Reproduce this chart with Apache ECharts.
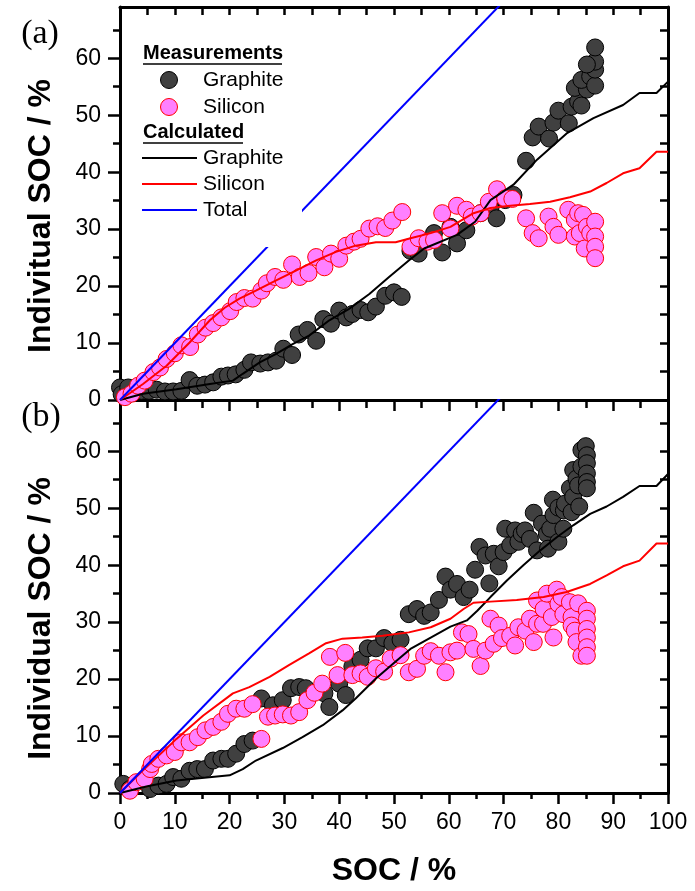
<!DOCTYPE html>
<html><head><meta charset="utf-8">
<script src="https://cdn.jsdelivr.net/npm/echarts@6/dist/echarts.min.js"></script>
<style>html,body{margin:0;padding:0;background:#fff}#c{width:695px;height:891px}</style>
</head><body><div id="c"></div>
<script>
// ---- tick values ----
const xMajorTicks = [0,10,20,30,40,50,60,70,80,90,100];
const yMajorTicks = [0,10,20,30,40,50,60];
const yMinorTicks = [5,15,25,35,45,55,65];
const yInsideTicks = [5,10,15,20,25,30,35,40,45,50,55,60,65];

// ---- (a) measurements ----
const graphiteMeasA = [[0.0,2.2],[0.3,1.0],[1.5,2.2],[3.9,1.6],[5.3,1.6],[6.7,1.8],[8.2,1.5],[9.7,1.5],[11.2,1.6],[12.7,3.5],[14.1,2.5],[15.5,2.7],[17.0,3.1],[18.5,4.1],[19.7,4.3],[21.1,4.5],[22.7,5.3],[23.9,6.6],[25.6,6.4],[27.0,6.6],[28.5,6.9],[29.8,9.0],[31.4,7.9],[32.6,11.5],[34.2,12.3],[35.8,10.4],[37.1,14.2],[38.5,13.4],[40.0,15.7],[41.3,14.5],[42.4,15.1],[43.9,15.8],[45.3,15.4],[46.7,16.4],[48.4,18.3],[50.0,18.9],[51.4,18.1],[53.0,26.2],[54.5,25.7],[57.3,29.3],[58.8,25.9],[60.3,30.4],[61.5,27.5],[63.2,29.8],[65.8,32.8],[67.6,33.7],[68.7,31.9],[70.3,35.1],[71.8,36.0],[74.1,42.0],[75.3,46.1],[76.4,48.0],[78.3,45.9],[79.1,48.7],[80.0,50.8],[81.9,48.6],[82.4,51.5],[83.6,52.4],[84.2,51.7],[83.0,54.8],[85.2,54.5],[84.2,56.2],[85.8,56.8],[86.7,55.2],[86.7,58.0],[86.7,59.4],[85.2,58.9],[86.7,61.9]];
const siliconMeasA = [[0.9,0.5],[2.1,1.1],[3.3,2.5],[4.5,3.4],[6.1,4.9],[7.3,5.7],[8.5,7.2],[10.0,8.2],[11.2,9.6],[12.8,9.3],[14.2,11.5],[15.6,12.7],[17.0,13.5],[18.5,14.5],[20.1,15.6],[21.3,17.2],[22.7,17.9],[24.2,17.8],[25.8,19.2],[26.8,20.5],[28.3,21.6],[29.8,21.1],[31.4,23.8],[32.8,21.6],[34.4,22.3],[35.8,25.1],[37.3,23.3],[38.5,25.7],[40.0,24.8],[41.3,27.1],[42.7,27.8],[43.9,28.3],[45.5,30.1],[47.0,30.5],[48.4,30.2],[49.7,31.5],[51.5,33.0],[53.0,26.9],[54.5,28.4],[56.1,27.8],[57.3,28.1],[58.8,32.8],[60.3,30.1],[61.5,34.1],[63.2,33.4],[64.2,32.2],[65.8,32.8],[67.3,34.8],[68.8,37.0],[70.3,35.4],[71.6,35.3],[74.1,31.9],[75.3,29.3],[76.4,28.4],[78.2,32.2],[79.1,30.4],[80.0,29.0],[81.8,33.4],[83.0,31.6],[83.6,32.8],[84.5,32.5],[83.0,28.7],[83.9,29.3],[85.2,30.4],[84.8,26.6],[85.8,29.3],[86.7,31.3],[86.7,28.7],[86.7,26.9],[86.7,24.9]];
// ---- (a) calculated ----
const graphiteCalcA = [[0,0],[4.2,1.1],[10.3,1.9],[16.4,2.8],[20.6,3.4],[22.4,4.6],[25.5,6.6],[28.5,8.1],[31.5,9.8],[34.5,11.3],[38.2,14.0],[41.8,16.0],[45.5,18.6],[49.1,21.6],[52.7,24.5],[55.5,26.6],[61.5,29.0],[64.8,31.3],[67.6,35.1],[71.8,37.8],[76.1,42.2],[81.5,46.8],[86.4,49.5],[91.8,51.8],[94.8,53.9],[97.9,53.9],[100,55.9]];
const siliconCalcA = [[0,0],[4.2,2.8],[8.5,6.0],[12.7,10.1],[16.4,14.0],[19.1,16.2],[21.8,17.8],[24.8,19.2],[28.5,21.0],[32.1,22.7],[35.8,24.5],[39.4,26.0],[43.0,27.1],[46.7,27.7],[50.3,27.7],[53.0,28.4],[56.7,29.3],[60.3,30.4],[64.5,32.8],[67.6,33.7],[71.2,34.1],[74.8,34.4],[78.5,34.8],[82.1,35.6],[85.8,36.6],[88.8,38.1],[91.8,39.8],[94.8,40.7],[97.9,43.6],[100,43.6]];
const totalCalc = [[0,0],[100,100]];

// ---- (b) measurements ----
const graphiteMeasB = [[0.6,1.6],[1.8,0.7],[5.5,0.7],[7.0,1.3],[8.5,1.6],[9.7,2.8],[11.2,2.5],[12.7,3.9],[14.1,4.2],[15.5,4.2],[17.0,5.7],[18.5,6.0],[19.7,6.0],[21.2,6.9],[22.7,8.6],[24.2,9.2],[25.8,16.6],[27.9,15.4],[29.7,16.3],[31.2,18.4],[32.7,18.6],[33.9,18.4],[37.3,17.5],[38.2,15.1],[40.0,19.2],[41.2,17.2],[42.4,22.2],[43.9,23.4],[45.2,25.4],[46.7,25.4],[48.2,27.2],[49.7,26.3],[51.2,26.9],[52.7,31.4],[54.2,32.3],[55.5,31.1],[56.7,31.7],[58.2,33.9],[59.4,38.0],[60.3,35.7],[61.5,36.7],[62.7,34.4],[63.8,35.7],[64.8,39.2],[65.6,43.2],[66.7,41.7],[67.4,36.8],[68.2,42.0],[69.1,39.8],[70.0,42.3],[70.3,46.4],[71.2,43.5],[72.1,46.1],[72.7,44.1],[73.3,45.5],[73.9,46.1],[74.8,44.6],[75.5,49.2],[76.1,42.6],[77.0,47.3],[77.9,45.5],[78.1,42.9],[78.5,46.4],[79.0,51.5],[79.1,48.8],[80.0,44.1],[80.0,50.1],[80.9,46.4],[81.0,49.6],[81.2,50.8],[82.1,53.5],[82.4,49.3],[82.7,52.0],[82.7,56.7],[83.3,55.2],[83.6,54.0],[83.8,50.3],[84.2,57.3],[84.2,60.2],[85.0,60.9],[85.2,59.3],[85.2,57.9],[85.2,56.1],[85.2,54.6],[85.2,53.5]];
const siliconMeasB = [[1.8,0.4],[3.0,1.9],[4.5,2.5],[5.5,4.2],[5.8,5.1],[7.0,6.0],[8.5,6.6],[10.0,7.2],[11.2,8.9],[12.7,8.9],[14.2,9.8],[15.6,11.0],[17.0,11.6],[18.5,12.5],[19.7,13.9],[21.2,14.8],[22.7,14.8],[24.2,15.6],[25.8,9.5],[27.0,13.4],[28.3,13.6],[29.7,13.8],[31.2,13.6],[32.7,14.2],[34.2,16.3],[35.5,17.6],[36.9,19.2],[38.3,23.9],[39.7,20.7],[41.1,24.6],[42.4,20.7],[43.9,21.0],[45.2,20.4],[46.7,21.9],[48.2,21.3],[49.4,23.6],[51.2,24.2],[52.7,21.2],[54.2,21.8],[55.5,24.1],[56.7,24.9],[58.2,24.1],[59.4,21.2],[60.3,24.7],[61.5,25.0],[62.4,28.2],[63.6,27.9],[64.5,25.3],[65.8,22.3],[66.7,25.0],[67.6,30.6],[68.2,26.2],[69.1,29.4],[69.7,27.2],[71.2,27.6],[72.1,25.9],[72.7,29.1],[74.0,28.5],[74.8,30.6],[75.5,26.5],[76.1,29.7],[76.1,33.8],[77.2,29.7],[77.3,32.3],[77.9,35.0],[78.8,30.9],[79.1,27.3],[79.7,35.7],[80.0,33.2],[80.6,34.4],[80.9,31.4],[82.1,33.5],[82.4,30.9],[82.4,29.4],[83.0,28.5],[83.3,26.5],[83.6,33.3],[84.2,24.1],[85.2,32.0],[85.2,30.6],[85.2,28.8],[85.2,27.3],[85.2,25.6],[85.2,24.1]];
// ---- (b) calculated ----
const graphiteCalcB = [[0,0],[5.0,1.2],[10.3,2.2],[20.0,3.1],[22.4,4.2],[24.8,5.7],[29.7,7.9],[33.3,9.8],[37.0,11.9],[40.6,14.5],[43.0,16.6],[46.7,20.1],[50.3,23.1],[53.0,25.3],[56.7,27.3],[60.3,29.2],[63.3,30.3],[65.2,32.0],[67.6,34.4],[70.6,37.3],[73.6,40.0],[76.7,42.6],[79.7,44.9],[82.7,47.0],[85.8,49.0],[88.8,50.3],[91.8,52.0],[94.8,53.9],[97.9,53.9],[100,56.0]];
const siliconCalcB = [[0,0],[4.0,3.8],[10.3,9.5],[15.2,13.6],[20.6,17.5],[23.6,18.6],[27.3,20.4],[30.9,22.5],[34.5,24.5],[37.6,26.3],[40.6,27.1],[44.2,27.3],[47.9,27.6],[52.7,28.2],[56.7,29.1],[60.3,30.6],[62.7,32.3],[64.5,33.4],[67.6,33.6],[72.4,33.9],[77.3,34.4],[81.5,35.3],[85.8,36.7],[88.8,38.2],[91.8,39.8],[94.8,40.8],[97.9,43.8],[100,43.8]];

const FONT = 'Liberation Sans';
const SERIF = 'Liberation Serif';
const BLK = '#000';

function xAxes(g, showLabels) {
  return [
    { gridIndex: g, type: 'value', position: 'bottom', min: 0, max: 100, interval: 10,
      axisLine: { show: true, onZero: false, lineStyle: { color: BLK, width: 3 } },
      axisTick: { show: true, inside: false, length: 11, lineStyle: { color: BLK, width: 2.5 } },
      minorTick: { show: true, splitNumber: 2, length: 6, lineStyle: { color: BLK, width: 2.5 } },
      splitLine: { show: false }, minorSplitLine: { show: false },
      axisLabel: { show: showLabels, color: BLK, fontSize: 23, fontFamily: FONT, margin: 18 },
      name: showLabels ? 'SOC / %' : '', nameLocation: 'middle', nameGap: 62,
      nameTextStyle: { color: BLK, fontSize: 32, fontWeight: 'bold', fontFamily: FONT } },
    { gridIndex: g, type: 'value', position: 'top', min: 0, max: 100, interval: 5,
      axisLine: { show: true, onZero: false, lineStyle: { color: BLK, width: 3 } },
      axisTick: { show: true, inside: true, length: 8, lineStyle: { color: BLK, width: 2.5 } },
      splitLine: { show: false }, axisLabel: { show: false } }
  ];
}
function yAxes(g, name, shift) {
  return [
    { gridIndex: g, type: 'value', position: 'left', min: 0, max: 69,
      axisLine: { show: true, onZero: false, lineStyle: { color: BLK, width: 3 } },
      axisTick: { show: true, inside: false, length: 12, customValues: yMajorTicks, lineStyle: { color: BLK, width: 2.5 } },
      axisLabel: { show: true, customValues: yMajorTicks, color: BLK, fontSize: 23, fontFamily: FONT, margin: 19 },
      splitLine: { show: false },
      name: name, nameLocation: 'middle', nameGap: 63, nameRotate: 90,
      nameTextStyle: { color: BLK, fontSize: 32, fontWeight: 'bold', fontFamily: FONT, padding: [0, shift, 0, 0] } },
    { gridIndex: g, type: 'value', position: 'left', min: 0, max: 69,
      axisLine: { show: false },
      axisTick: { show: true, inside: false, length: 7, customValues: yMinorTicks, lineStyle: { color: BLK, width: 2.5 } },
      axisLabel: { show: false }, splitLine: { show: false } },
    { gridIndex: g, type: 'value', position: 'right', min: 0, max: 69,
      axisLine: { show: true, onZero: false, lineStyle: { color: BLK, width: 3 } },
      axisTick: { show: true, inside: true, length: 8, customValues: yInsideTicks, lineStyle: { color: BLK, width: 2.5 } },
      axisLabel: { show: false }, splitLine: { show: false } }
  ];
}

function seriesFor(g, gMeas, sMeas, gCalc, sCalc) {
  const xi = g * 2, yi = g * 3;
  return [
    { type: 'scatter', name: 'Graphite (measured)', xAxisIndex: xi, yAxisIndex: yi, data: gMeas,
      symbol: 'circle', symbolSize: 17, z: 2,
      itemStyle: { color: '#404040', borderColor: '#000', borderWidth: 1, opacity: 1 } },
    { type: 'scatter', name: 'Silicon (measured)', xAxisIndex: xi, yAxisIndex: yi, data: sMeas,
      symbol: 'circle', symbolSize: 17, z: 3,
      itemStyle: { color: '#ff80ff', borderColor: '#ff0000', borderWidth: 1, opacity: 1 } },
    { type: 'line', name: 'Graphite (calculated)', xAxisIndex: xi, yAxisIndex: yi, data: gCalc,
      showSymbol: false, symbol: 'none', z: 4, lineStyle: { color: '#000', width: 2 } },
    { type: 'line', name: 'Silicon (calculated)', xAxisIndex: xi, yAxisIndex: yi, data: sCalc,
      showSymbol: false, symbol: 'none', z: 4, lineStyle: { color: '#ff0000', width: 2 } },
    { type: 'line', name: 'Total (calculated)', xAxisIndex: xi, yAxisIndex: yi, data: totalCalc,
      showSymbol: false, symbol: 'none', z: 4, clip: true, lineStyle: { color: '#0000ff', width: 2 } }
  ];
}

const legendX = 143, symX = 169, txtX = 203;
const graphic = [
  { type: 'rect', z: 100, shape: { x: 135, y: 35, width: 167, height: 212 }, style: { fill: '#fff' } },
  { type: 'text', z: 101, x: legendX, y: 53, style: { text: 'Measurements', fill: BLK, fontSize: 20, fontWeight: 'bold', fontFamily: FONT, verticalAlign: 'middle' } },
  { type: 'line', z: 101, shape: { x1: legendX, y1: 64, x2: 282, y2: 64 }, style: { stroke: BLK, lineWidth: 1.5 } },
  { type: 'circle', z: 101, shape: { cx: symX, cy: 80, r: 8.5 }, style: { fill: '#404040', stroke: '#000', lineWidth: 1 } },
  { type: 'text', z: 101, x: txtX, y: 80, style: { text: 'Graphite', fill: BLK, fontSize: 21, fontFamily: FONT, verticalAlign: 'middle' } },
  { type: 'circle', z: 101, shape: { cx: symX, cy: 107, r: 8.5 }, style: { fill: '#ff80ff', stroke: '#ff0000', lineWidth: 1 } },
  { type: 'text', z: 101, x: txtX, y: 107, style: { text: 'Silicon', fill: BLK, fontSize: 21, fontFamily: FONT, verticalAlign: 'middle' } },
  { type: 'text', z: 101, x: legendX, y: 132, style: { text: 'Calculated', fill: BLK, fontSize: 20, fontWeight: 'bold', fontFamily: FONT, verticalAlign: 'middle' } },
  { type: 'line', z: 101, shape: { x1: legendX, y1: 143, x2: 243, y2: 143 }, style: { stroke: BLK, lineWidth: 1.5 } },
  { type: 'line', z: 101, shape: { x1: 142, y1: 158, x2: 197, y2: 158 }, style: { stroke: '#000', lineWidth: 2 } },
  { type: 'text', z: 101, x: txtX, y: 158, style: { text: 'Graphite', fill: BLK, fontSize: 21, fontFamily: FONT, verticalAlign: 'middle' } },
  { type: 'line', z: 101, shape: { x1: 142, y1: 184, x2: 197, y2: 184 }, style: { stroke: '#ff0000', lineWidth: 2 } },
  { type: 'text', z: 101, x: txtX, y: 184, style: { text: 'Silicon', fill: BLK, fontSize: 21, fontFamily: FONT, verticalAlign: 'middle' } },
  { type: 'line', z: 101, shape: { x1: 142, y1: 210, x2: 197, y2: 210 }, style: { stroke: '#0000ff', lineWidth: 2 } },
  { type: 'text', z: 101, x: txtX, y: 210, style: { text: 'Total', fill: BLK, fontSize: 21, fontFamily: FONT, verticalAlign: 'middle' } },
  { type: 'text', z: 101, x: 40, y: 34, style: { text: '(a)', fill: BLK, fontSize: 34, fontFamily: SERIF, align: 'center', verticalAlign: 'middle' } },
  { type: 'text', z: 101, x: 41, y: 417, style: { text: '(b)', fill: BLK, fontSize: 34, fontFamily: SERIF, align: 'center', verticalAlign: 'middle' } }
];

const chart = echarts.init(document.getElementById('c'), null, { renderer: 'canvas' });
chart.setOption({
  animation: false,
  backgroundColor: '#fff',
  textStyle: { fontFamily: FONT },
  grid: [
    { left: 120, right: 27, top: 7, height: 393 },
    { left: 120, right: 27, top: 400, height: 393 }
  ],
  xAxis: [...xAxes(0, false), ...xAxes(1, true)],
  yAxis: [...yAxes(0, 'Indivitual SOC / %', 25), ...yAxes(1, 'Individual SOC / %', 44)],
  series: [
    ...seriesFor(0, graphiteMeasA, siliconMeasA, graphiteCalcA, siliconCalcA),
    ...seriesFor(1, graphiteMeasB, siliconMeasB, graphiteCalcB, siliconCalcB)
  ],
  graphic: graphic
});
</script>
</body></html>
